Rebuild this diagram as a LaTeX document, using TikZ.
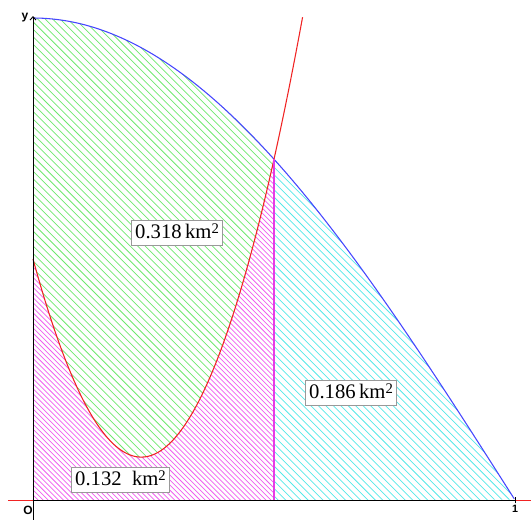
\documentclass[tikz,border=0pt]{standalone}
\usepackage{fontspec}
\setmainfont{Liberation Serif}
\setsansfont{Liberation Sans}
\usetikzlibrary{arrows.meta}
\definecolor{hgreen}{RGB}{110,232,110}
\definecolor{hmag}{RGB}{238,95,238}
\definecolor{hcyan}{RGB}{85,232,232}
\definecolor{cblue}{RGB}{70,70,255}
\definecolor{cred}{RGB}{240,35,35}
\definecolor{cmag}{RGB}{230,60,230}
\newcommand{\sqr}{\raisebox{0.55ex}{\fontsize{11}{11}\selectfont 2}}
\begin{document}
\begin{tikzpicture}[x=361.5pt,y=361.5pt,
  declare function={f(\x)=8.148*\x*\x-3.66*\x+0.5; g(\x)=cos(90*\x);},
  hatchline/.style={line width=0.55pt},
  curve/.style={line width=0.8pt},
  areabox/.style={draw=gray!80, fill=white, line width=0.6pt, font=\fontsize{15.5}{15.5}\selectfont,
    text height=11pt, text depth=3pt, inner xsep=3pt, inner ysep=2.5pt},
  axislabel/.style={font=\sffamily\fontsize{8}{8}\selectfont, inner sep=0pt}]
\useasboundingbox (-0.06846,-0.04149) rectangle (1.03320,1.03734);
% green: between red and blue
\begin{scope}
  \clip (0,1) -- plot[domain=0:0.5,samples=60] (\x,{g(\x)}) -- plot[domain=0.5:0,samples=80] (\x,{f(\x)}) -- cycle;
  \foreach \c in {0,0.0155,...,1.6} \draw[hatchline,hgreen] (\c+0.05,-0.05) -- (\c-1.1,1.1);
\end{scope}
% magenta: under red
\begin{scope}
  \clip (0,0) -- plot[domain=0:0.5,samples=80] (\x,{f(\x)}) -- (0.5,0) -- cycle;
  \foreach \c in {0,0.0105,...,1.3} \draw[hatchline,hmag] (\c+0.05,-0.05) -- (\c-1.1,1.1);
\end{scope}
% cyan: under blue right of 0.5
\begin{scope}
  \clip (0.5,0) -- plot[domain=0.5:1,samples=60] (\x,{g(\x)}) -- cycle;
  \foreach \c in {0.4,0.4155,...,1.8} \draw[hatchline,hcyan] (\c+0.05,-0.05) -- (\c-1.1,1.1);
\end{scope}
% curves
\draw[curve,cblue] plot[domain=0:1,samples=100] (\x,{g(\x)});
\draw[curve,cred] plot[domain=0:0.5595,samples=120] (\x,{f(\x)});
\coordinate (vb) at (0.5,0);
\coordinate (vt) at (0.5,{f(0.5)});
\draw[curve,cmag] (vb) -- (vt);
% axes
\coordinate (xl) at (-0.0519,0);
\coordinate (O) at (0,0);
\coordinate (xone) at (1,0);
\coordinate (xr) at (1.0332,0);
\coordinate (yb) at (0,-0.0415);
\coordinate (yt) at (0,1.004);
\draw[line width=0.7pt,cred] (xl) -- (O);
\draw[line width=0.7pt,cred] (xone) -- (xr);
\draw[line width=0.7pt] (O) -- (xone);
\draw[line width=0.7pt,-{Straight Barb[length=2.5pt,width=4.5pt]}] (yb) -- (yt);
\draw[line width=0.6pt] (1,-0.007) -- (1,0.007);
\node[axislabel,font=\sffamily\bfseries\fontsize{9}{9}\selectfont] (olab) at (-0.0104,-0.0215) {O};
\node[axislabel,font=\sffamily\bfseries\fontsize{8}{8}\selectfont] (onelab) at (1,-0.018) {1};
\node[axislabel,font=\sffamily\bfseries\fontsize{9}{9}\selectfont] (ylab) at (-0.0166,1.0) {y};
% labels
\node[areabox] (a1) at (0.2988,0.5539) {0.318\,km\sqr};
\node[areabox] (a2) at (0.6598,0.2220) {0.186\,km\sqr};
\node[areabox] (a3) at (0.1815,0.0415) {0.132\ \ km\sqr};
\end{tikzpicture}
\end{document}
